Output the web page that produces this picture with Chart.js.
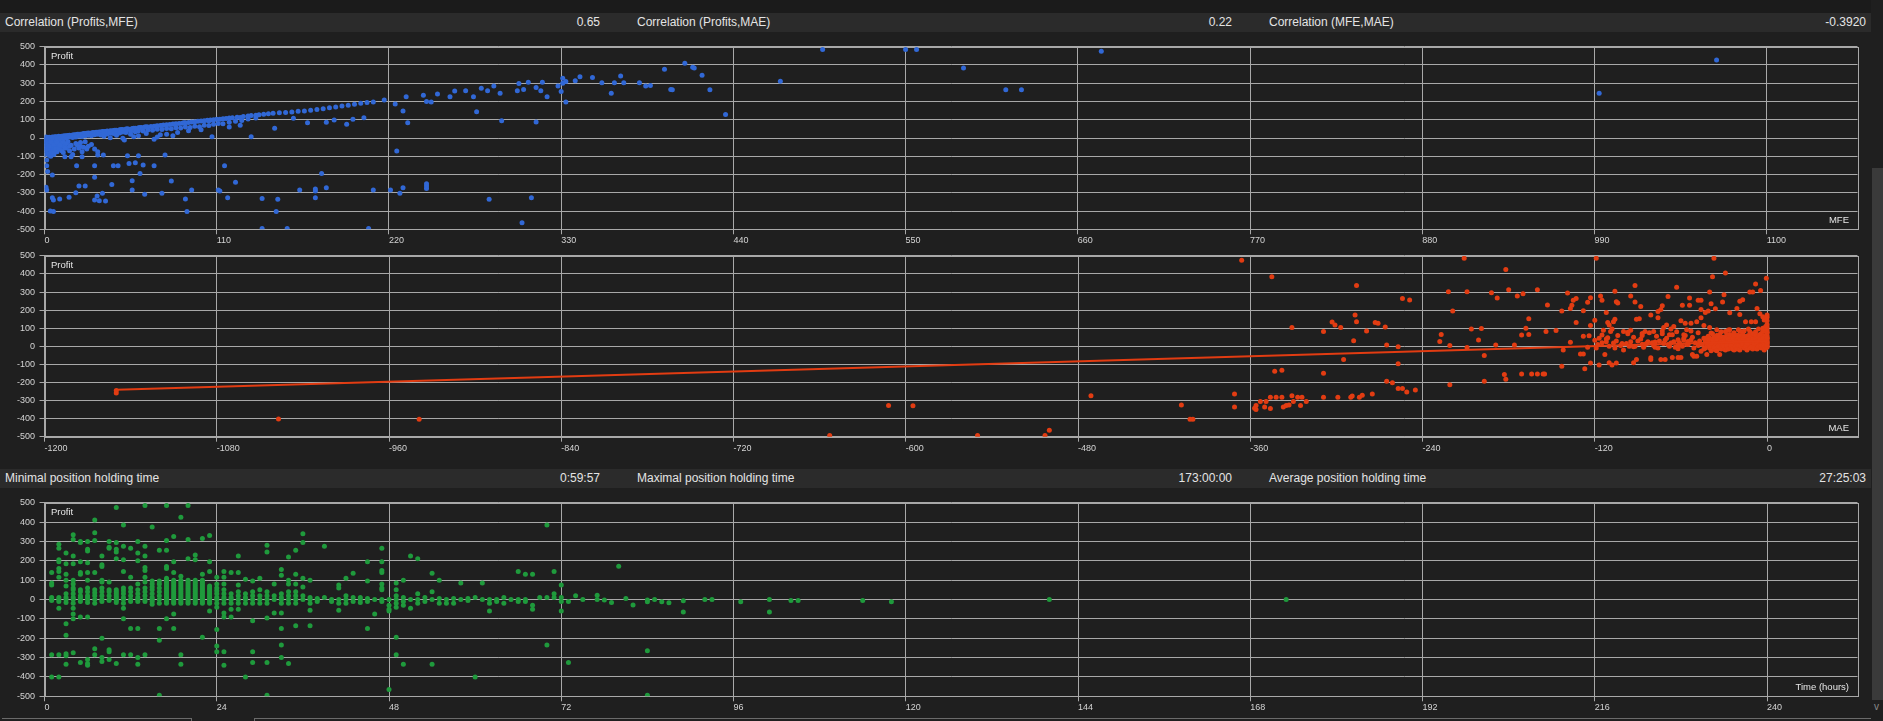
<!DOCTYPE html>
<html><head><meta charset="utf-8">
<script src="https://cdn.jsdelivr.net/npm/chart.js@4.4.1/dist/chart.umd.min.js"></script>
<style>
html,body{margin:0;padding:0;background:#1f1f1f;width:1883px;height:721px;overflow:hidden;font-family:'Liberation Sans',Arial,sans-serif;}
.abs{position:absolute;}
.hdr{position:absolute;left:0;width:1871px;height:19px;background:#2b2b2b;color:#e4e4e4;font-size:12px;}
.cl{position:absolute;top:0;line-height:19px;white-space:nowrap;}
.cr{position:absolute;top:0;line-height:19px;white-space:nowrap;text-align:right;}
canvas{position:absolute;left:0;}
</style></head><body>
<div class="abs" style="left:0;top:0;width:1871px;height:13px;background:#1b1b1b"></div>
<div class="hdr" style="top:13px">
  <span class="cl" style="left:5px">Correlation (Profits,MFE)</span>
  <span class="cr" style="right:1271px">0.65</span>
  <span class="cl" style="left:637px">Correlation (Profits,MAE)</span>
  <span class="cr" style="right:639px">0.22</span>
  <span class="cl" style="left:1269px">Correlation (MFE,MAE)</span>
  <span class="cr" style="right:5px">-0.3920</span>
</div>
<div class="hdr" style="top:469px">
  <span class="cl" style="left:5px">Minimal position holding time</span>
  <span class="cr" style="right:1271px">0:59:57</span>
  <span class="cl" style="left:637px">Maximal position holding time</span>
  <span class="cr" style="right:639px">173:00:00</span>
  <span class="cl" style="left:1269px">Average position holding time</span>
  <span class="cr" style="right:5px">27:25:03</span>
</div>
<canvas id="c1"></canvas>
<canvas id="c2"></canvas>
<canvas id="c3"></canvas>
<div class="abs" style="left:1871px;top:0;width:12px;height:721px;background:#1f1f1f"></div>
<div class="abs" style="left:1872px;top:168px;width:11px;height:532px;background:#3a3a3a"></div>
<div class="abs" style="left:1874px;top:701px;font-size:10px;color:#8a8a8a;">v</div>
<div class="abs" style="left:2px;top:718px;width:189px;height:5px;border-top:1px solid #6a6a6a;border-right:1px solid #6a6a6a;"></div>
<div class="abs" style="left:254px;top:718px;width:1616px;height:5px;border-top:1px solid #6a6a6a;border-left:1px solid #6a6a6a;"></div>
<script>
// ---------- DATA ----------
const profitAxis = {min: -500, max: 500, step: 100};
const mfeAxis = {min: 0, max: 1158, step: 110};
const maeAxis = {min: -1200, max: 63, step: 120};
const timeAxis = {min: 0, max: 252.6, step: 24};

// MFE vs Profit  [MFE, Profit]
const mfeProfitPoints = [
 [0,-5],[0,-20],[0,-35],[1,-10],[1,-50],[1,-70],[1,5],[2,-15],[2,-40],[2,-85],[2,0],[3,-25],[3,-60],[3,-95],[3,3],[4,-5],[4,-45],[4,-75],[5,-30],[5,-55],[5,2],[6,-10],[6,-65],[6,-90],[7,-20],[7,-40],[7,5],[8,-50],[8,-75],[8,2],[9,-15],[9,-35],[10,-60],[10,5],[11,-25],[11,-45],[12,-80],[12,8],[13,-35],[14,-55],[15,-20],[15,10],[16,-70],[17,-40],[18,-90],[18,12],[20,-30],[22,-55],[24,-75],[26,-20],[28,-45],
 [0,-60],[0,-90],[1,-30],[2,-60],[3,-45],[4,-20],[4,-100],[5,-80],[6,-35],[7,-60],[8,-25],[9,-55],[10,-40],[11,-70],[12,-20],[13,-55],[14,-30],[16,-45],[19,-60],[21,-40],[23,-25],[25,-50],[30,-35],[32,-60],
 [2,2],[3,4],[4,3],[5,6],[6,5],[7,7],[8,6],[9,9],[10,8],[11,10],[12,11],[13,12],[14,13],[15,14],[16,15],[17,14],[18,17],[19,18],[20,18],[21,20],[22,21],[23,20],[24,22],[25,24],[26,24],[27,26],[28,27],[29,26],[30,28],[31,30],[32,29],[33,31],[34,32],[35,33],[36,33],[37,35],[38,36],[39,36],[40,38],[42,40],[43,39],[44,41],[45,43],[46,42],[48,45],[49,47],[50,46],[52,49],[53,50],[54,48],[56,52],[57,54],[58,53],[60,56],[61,58],[62,57],[64,60],[65,62],[66,60],[68,63],[70,65],[71,64],[72,67],[74,69],[75,68],[76,71],[78,72],[80,74],[82,76],[83,75],[84,78],[86,80],[88,81],[89,83],[90,84],[92,85],[94,88],[96,89],[98,92],[100,93],[102,95],[104,97],[105,94],[106,99],[108,100],[110,102],[112,103],[114,106],[116,107],[118,110],[120,111],[123,114],[125,112],[127,118],[130,120],[132,123],[135,125],[137,128],[140,130],[143,133],[146,135],[150,138],[154,140],[158,143],[162,146],[166,148],[170,152],[174,156],[178,160],[182,165],[186,170],[190,175],[194,180],[198,185],[202,190],[206,195],
 [5,-2],[8,-4],[10,0],[12,2],[14,-3],[16,5],[18,3],[20,6],[22,10],[24,8],[26,12],[28,15],[30,13],[32,18],[34,20],[36,16],[38,24],[40,22],[42,27],[44,25],[46,30],[48,28],[50,33],[52,30],[55,36],[58,34],[60,40],[63,38],[66,44],[69,42],[72,48],[75,46],[78,52],[81,50],[84,56],[87,55],[90,60],[93,58],[96,64],[99,62],[102,70],[105,68],[108,75],[111,80],[114,78],[118,86],[122,92],[126,96],[130,104],[135,110],
 [38,10],[42,2],[46,15],[50,-2],[55,20],[60,12],[65,25],[72,5],[78,20],[85,30],[92,40],[100,45],[118,60],[125,70],
 [1.4,-120],[1.4,-152],[2,-184],[5,-203],[1,-270],[1.4,-285],[5,-327],[5.7,-340],[9.7,-334],[3.7,-400],[5.7,-403],[15.7,-325],[20,-300],[22,-263],[26,-263],[20.5,-152],[32,-215],[32,-152],[33.6,-318],[32,-340],[35,-343],[39,-345],[37,-303],[43,-254],[44,-152],[47,-152],[34,-75],[37.6,-93],[34,-93],[23,-47],[27,-60],[17,-102],[13,-102],[5.7,-84],[24,-102],[53,-97],[54,-139],[58,-135],[60,-97],[63,-148],[61,-194],[56,-234],[56,-285],[64,-308],[70,-152],[75,-303],[77,-93],[81,-235],[90,-334],[91,-403],[94,-285],[111,-285],[112,-290],[115,-152],[117,-327],[122,-243],[139,-332],[139,-495],[148,-402],[149,-336],[155,-495],[163,-285],[173,-279],[173,-290],[173,-327],[177,-194],[180,-272],[207,-495],[210,-285],[221,-285],[227,-303],[229,-272],[225,-71],[244,-250],[244,-263],[244,-276],[284,-336],[305,-464],[311,-327],
 [82,13],[74,18],[70,-7],[51,-11],[57,7],[107,7],[132,7],[147,53],[159,108],[168,84],[180,86],[185,98],[193,75],[197,102],[204,111],[229,148],[232,84],[292,95],[314,88],[333,197],[276,144],[400,266],[362,245],[387,287],
 [210,197],[217,208],[224,186],[231,226],[242,234],[244,200],[247,197],[251,241],[259,226],[262,257],[269,259],[274,226],[279,272],[283,259],[287,285],[291,245],[302,259],[303,299],[306,266],[309,305],[314,277],[318,305],[317,259],[321,226],[330,254],[331,327],[339,314],[342,336],[350,332],[356,303],[364,303],[368,339],[370,303],[380,303],[384,285],[396,376],[409,409],[414,387],[328,285],[331,300],[333,310],
 [401,264],[415,384],[420,344],[425,264],[435,129],[470,311],[497,484],[550,484],[557,484],[587,384],[614,264],[624,264],[675,475],[993,245],[1068,427]
];

// MAE vs Profit  [MAE, Profit]
const maeProfitPoints = [
 [-1150,-245],[-1150,-258],[-1037,-402],[-939,-404],[-653,-493],[-612,-327],[-595,-329],[-550,-493],[-503,-493],[-500,-464],[-471,-273],[-408,-325],[-402,-404],[-400,-404],[-371,-264],[-371,-336],[-366,476],
 [-345,385],[-286,336],[-254,265],[-249,256],[-331,104],[-309,82],[-303,135],[-301,118],[-297,104],[-287,173],[-286,136],[-288,31],[-279,85],[-273,131],[-271,127],[-266,107],[-265,7],[-257,-2],[-257,-96],[-295,-73],[-343,-138],[-338,-133],[-309,-149],[-265,-193],[-261,-202],[-257,-233],[-254,-233],[-251,-253],[-245,-242],[-275,-264],[-282,-271],[-284,-282],[-289,-275],[-290,-282],[-299,-282],[-309,-282],[-321,-305],[-324,-282],[-325,-327],[-327,-282],[-330,-305],[-331,-273],[-333,-324],[-335,-327],[-337,-336],[-338,-282],[-342,-282],[-346,-282],[-346,-344],[-349,-305],[-350,-336],[-353,-305],[-356,-327],[-357,-342],[-356,-349],
 [-222,302],[-211,487],[-209,302],[-219,195],[-227,65],[-228,27],[-221,5],[-221,-213],[-209,-7],[-206,96],[-201,35],[-199,98],[-197,-51],[-197,-193],[-192,296],[-189,7],[-188,267],[-182,425],[-180,313],[-183,-156],[-182,-182],[-176,7],[-174,278],[-170,291],[-171,62],[-168,100],[-166,65],[-166,153],[-171,-153],[-164,-153],[-160,-153],[-156,-153],[-155,-153],[-160,313],[-154,82],[-153,229],[-147,87],[-143,-111],[-142,-20],[-143,195],[-139,295],[-137,22],[-136,227],[-137,209],[-135,255],[-133,265],[-133,131],[-130,-42],[-128,-42],[-128,56],[-128,196],[-127,-124],[-125,244],[-124,58],[-123,115],[-123,269],[-123,-93],[-120,144],[-120,33],[-119,487],[-119,-9],[-117,-104],[-117,45],[-116,278],[-115,255],[-115,62],[-114,89],[-113,-45],[-112,187],[-111,131],[-111,47],[-110,-91],[-110,118],[-109,82],[-108,-104],[-107,18],[-107,136],[-106,304],[-106,149],[-105,247],[-105,-93],[-104,240],[-100,82],[-97,78],[-95,278],[-95,89],[-93,-91],[-93,-2],[-92,336],[-92,245],[-91,149],[-91,-73],[-89,153],[-88,220],[-87,71],[-87,11],[-85,82],[-84,15],[-81,173],[-81,-64],[-81,-73],[-79,82],[-78,24],[-76,158],[-76,193],[-74,204],[-74,-73],[-73,224],[-73,85],[-72,104],[-72,18],[-71,-73],[-70,118],[-69,276],[-68,64],[-67,18],[-66,-62],[-66,64],[-65,109],[-63,327],[-62,36],[-62,-13],[-62,-62],[-60,142],[-60,-62],[-59,227],[-58,64],[-58,45],[-57,127],[-56,91],[-55,27],[-54,267],[-54,227],[-53,85],[-53,127],[-52,-45],[-51,-55],[-49,-55],[-49,136],[-48,255],[-46,158],[-46,-27],[-46,255],[-46,204],[-44,115],[-43,45],[-43,187],[-42,-45],[-41,195],[-40,300],[-40,104],[-39,73],[-39,235],[-38,385],[-37,27],[-37,487],[-36,207],[-35,91],[-34,-9],[-33,-45],[-33,65],[-31,245],[-31,18],[-30,285],[-29,82],[-29,405],[-29,0],[-27,45],[-26,185],[-26,91],[-25,27],[-24,64],[-23,45],[-22,9],[-21,209],[-20,91],[-20,58],[-19,176],[-19,249],[-18,27],[-17,258],[-16,85],[-15,136],[-15,45],[-13,27],[-12,300],[-12,82],[-11,136],[-10,18],[-10,300],[-9,67],[-8,345],[-8,136],[-7,209],[-6,27],[-6,96],[-5,180],[-4.5,309],[-4,45],[-3,164],[-3,82],[-2,27],[-2,145],[-1,109],[-0.5,376],[0,173],[0,78],[0,18],[0,142],
 [-45,10],[-44,-15],[-43,30],[-42,5],[-41,55],[-40,-10],[-40,20],[-39,40],[-38,0],[-38,70],[-37,15],[-36,-20],[-36,35],[-35,5],[-35,60],[-34,25],[-33,-5],[-33,45],[-32,10],[-32,80],[-31,30],[-30,-15],[-30,50],[-29,20],[-28,65],[-28,35],[-27,5],[-27,90],[-26,-10],[-26,40],[-25,15],[-25,55],[-24,0],[-24,30],[-23,75],[-23,-20],[-22,20],[-22,45],[-21,5],[-21,60],[-20,-5],[-20,35],[-19,10],[-19,85],[-18,25],[-18,50],[-17,0],[-17,70],[-16,15],[-16,40],[-15,-10],[-15,30],[-14,5],[-14,55],[-13,20],[-13,95],[-12,0],[-12,45],[-11,10],[-11,65],[-10,-15],[-10,30],[-9,5],[-9,50],[-8,20],[-8,80],[-7,0],[-7,35],[-6,10],[-6,60],[-5,-5],[-5,25],[-5,45],[-4,15],[-4,70],[-3,0],[-3,35],[-3,100],[-2,10],[-2,55],[-2,-20],[-1,20],[-1,40],[-1,85],[0,0],[0,30],[0,60],[0,120],[0,160],
 [-50,20],[-55,10],[-58,35],[-62,5],[-65,25],[-68,0],[-70,45],[-72,15],[-75,30],[-78,-5],[-80,20],[-85,10],[-88,40],[-92,0],[-95,25],[-98,15],[-102,5],[-105,30],[-110,0],[-115,20],[-48,75],[-52,50],[-57,60],[-63,80],[-67,95],[-73,70],[-77,55],[-82,75],[-87,60],[-93,50],[-97,70],[-100,-20],[-104,60],[-108,95],[-112,40],
 [-29,10],[-28,-5],[-27,25],[-26,15],[-25,35],[-24,50],[-23,5],[-22,30],[-21,40],[-20,15],[-19,0],[-18,40],[-17,20],[-16,5],[-15,50],[-14,25],[-13,0],[-12,30],[-11,40],[-10,10],[-9,25],[-8,0],[-7,15],[-6,40],[-5,10],[-4,30],[-3,15],[-2,30],[-1,5],[0,15],[0,45],[0,75],[-1,60],[-2,40],[-3,55],[-4,50],[-6,25],[-7,50],[-9,35],[-10,50],[-12,15],[-14,40],[-16,25],[-18,10],[-20,45],[-22,10],[-24,15],[-26,55],[-28,20],[-30,25],[-32,40],[-34,10],[-36,5],[-38,20],[-40,45],
 [-40,0],[-39,15],[-39,-25],[-38,35],[-37,50],[-37,-5],[-36,20],[-35,40],[-35,-25],[-34,0],[-34,55],[-33,20],[-32,-15],[-32,25],[-31,50],[-31,5],[-30,0],[-30,35],[-29,-20],[-29,45],[-28,5],[-28,50],[-27,-15],[-27,40],[-26,25],[-26,65],[-25,-5],[-25,5],[-24,40],[-24,-15],[-23,25],[-23,60],[-22,-5],[-22,0],[-21,25],[-21,-15],[-20,5],[-20,60],[-19,30],[-19,-20],[-18,0],[-18,60],[-17,10],[-17,45],[-16,-10],[-16,55],[-15,20],[-15,0],[-14,-20],[-14,15],[-13,40],[-13,60],[-12,-10],[-12,60],[-11,25],[-11,-5],[-10,40],[-10,70],[-9,-10],[-9,15],[-8,45],[-8,60],[-7,-15],[-7,25],[-6,0],[-6,50],[-5,35],[-5,65],[-4,-10],[-4,5],[-3,25],[-3,45],[-2,0],[-2,20],[-1,-10],[-1,30],[0,-5],[0,5],[0,25],[0,40],[0,50],[0,90],[0,105],
 [-125,-5],[-118,10],[-112,25],[-106,-10],[-101,15],[-96,0],[-90,30],[-86,-5],[-83,25],[-79,5],[-76,-10],[-71,35],[-69,10],[-64,-5],[-61,20],[-59,0],[-56,10],[-53,35],[-51,-10],[-48,5],[-47,30],[-44,45],[-43,-10],[-42,20],[-41,35]
];
const maeTrendX = [-1150, 0];
const maeTrendY = [-240, 30];

// Holding time (hours) vs Profit : [hour, [profits...]]
const holdingColumns = [
 [1,[140,85,75,10,0,-5,-285,-400]],
 [2,[285,265,205,195,160,145,115,10,0,-10,-45,-285,-400]],
 [3,[240,185,130,100,70,30,10,0,-15,-125,-185,-280,-290,-335]],
 [4,[335,310,225,185,100,80,60,50,30,10,0,-20,-45,-75,-100,-275]],
 [5,[300,295,195,140,130,50,40,20,10,0,-10,-90,-325]],
 [6,[300,260,250,190,140,100,60,40,20,10,0,-15,-90,-310,-330,-340]],
 [7,[410,345,305,140,50,35,20,0,-20,-255,-285]],
 [8,[225,180,170,100,90,60,40,20,0,-10,-200,-300,-320]],
 [9,[300,270,265,90,50,40,20,0,-5,-260,-270,-310]],
 [10,[475,295,260,245,210,50,40,30,20,10,0,-5,-15,-330]],
 [11,[385,275,205,145,60,45,30,10,0,-20,-45,-100,-285]],
 [12,[265,115,60,40,20,0,-10,-150,-285]],
 [13,[300,240,200,80,50,30,10,0,-10,-150,-300,-335]],
 [14,[485,275,225,165,150,115,90,60,40,20,0,-10,-285]],
 [15,[375,95,80,65,50,30,10,0,-10,-25]],
 [16,[255,95,80,60,40,20,0,-20,-150,-210,-495]],
 [17,[485,305,255,170,160,110,100,90,80,70,60,50,40,30,20,10,0,-10,-20,-100]],
 [18,[325,195,140,100,90,80,70,60,50,40,30,20,10,0,-10,-20,-75,-150]],
 [19,[425,120,100,90,80,70,60,50,40,30,20,10,0,-10,-20,-285,-335]],
 [20,[485,310,210,100,90,80,70,60,50,40,30,20,10,0,-10,-20]],
 [21,[230,205,100,90,80,70,60,50,40,30,20,10,0,-10,-20]],
 [22,[315,130,100,90,80,70,60,50,40,30,20,10,0,-10,-20,-195]],
 [23,[330,195,145,70,60,50,40,30,20,10,0,-10,-20,-60]],
 [24,[115,80,60,45,30,10,0,-20,-40,-155,-240,-270]],
 [25,[145,115,80,50,30,10,0,-20,-70,-90,-270,-340]],
 [26,[140,30,10,0,-20,-50,-90]],
 [27,[225,140,75,40,20,0,-20,-50]],
 [28,[105,30,10,0,-20,-400]],
 [29,[95,40,20,0,-20,-110,-270,-325]],
 [30,[110,50,20,0,-20]],
 [31,[280,245,40,20,0,-20,-95,-325,-495]],
 [32,[80,20,0,-70]],
 [33,[155,125,30,10,0,-20,-70,-150,-235,-300]],
 [34,[220,100,80,40,20,0,-20,-330]],
 [35,[255,130,80,40,20,0,-20,-135]],
 [36,[340,295,110,65,20,0]],
 [37,[100,10,0,-20,-55,-135]],
 [38,[5,0,-10]],
 [39,[275,10]],
 [40,[0,-10]],
 [41,[75,60,0,-20,-55]],
 [42,[110,20,0,-20]],
 [43,[135,10,-10]],
 [44,[10,0,-15]],
 [45,[195,95,5,-10,-150]],
 [46,[0,-75]],
 [47,[265,195,150,140,80,60,50,0,-10]],
 [48,[0,-30,-50,-60,-465]],
 [49,[85,50,20,0,-20,-40,-195,-285]],
 [50,[100,10,-10,-30,-335]],
 [51,[225,0,-45]],
 [52,[210,30,0,-20]],
 [53,[10,-10]],
 [54,[135,40,0,-335]],
 [55,[100,5,-20]],
 [56,[0,-20]],
 [57,[5,-20]],
 [58,[85,0]],
 [59,[5,-5]],
 [60,[10,-400]],
 [61,[85,0]],
 [62,[0,-20,-60]],
 [63,[0,-10]],
 [64,[10,-20]],
 [65,[0]],
 [66,[145,0,-10]],
 [67,[130,0,-10]],
 [68,[130,-30,-50]],
 [69,[10]],
 [70,[385,10,-235]],
 [71,[145,30,10]],
 [72,[75,10,-10,-60]],
 [73,[-10,-325]],
 [74,[20]],
 [75,[0]],
 [77,[22,0]],
 [78,[-3]],
 [79,[-15]],
 [80,[172]],
 [81,[5]],
 [82,[-29]],
 [84,[-3,-12,-265,-494]],
 [85,[0]],
 [86,[-12]],
 [87,[-17]],
 [89,[-7,-64]],
 [92,[0]],
 [93,[0]],
 [97,[-12]],
 [101,[0,-64]],
 [104,[-5]],
 [105,[-5]],
 [114,[-5]],
 [118,[-12]],
 [140,[0]],
 [173,[0]]
];

// ---------- STYLE ----------
const GRID = '#a8a8a8';
const TICK = '#d4d4d4';
const LABEL = '#e6e6e6';
const FONT = "'Liberation Sans', Arial, sans-serif";
const CANVAS_W = 1871;
const PLOT_LEFT = 44.5;
const PLOT_RIGHT = 1857.5;

function toXY(pairs){ return pairs.map(p => ({x: p[0], y: p[1]})); }
function plainNumber(v){ return String(Math.round(v * 1000) / 1000); }

function makeChart(cfg){
  const cv = document.getElementById(cfg.id);
  cv.width = CANVAS_W; cv.height = cfg.height;
  cv.style.top = cfg.top + 'px';
  cv.style.width = CANVAS_W + 'px'; cv.style.height = cfg.height + 'px';
  const xAxisHeight = cfg.top + cfg.height - cfg.plotBottom;
  const framePlugin = {
    id: 'frame' + cfg.id,
    beforeDatasetsDraw(chart){
      const {ctx, chartArea: a} = chart;
      ctx.save();
      ctx.strokeStyle = GRID; ctx.lineWidth = 1;
      const l = Math.round(a.left) + 0.5, t = Math.round(a.top) + 0.5;
      ctx.strokeRect(l, t, Math.round(a.right) - Math.round(a.left), Math.round(a.bottom) - Math.round(a.top));
      ctx.restore();
    },
    afterDatasetsDraw(chart){
      const {ctx, chartArea: a} = chart;
      ctx.save();
      ctx.fillStyle = LABEL;
      ctx.font = '9.5px ' + FONT;
      ctx.textBaseline = 'middle';
      ctx.textAlign = 'left';
      ctx.fillText('Profit', a.left + 6.5, a.top + 9.5);
      ctx.textAlign = 'right';
      ctx.fillText(cfg.xTitle, a.right - 8.5, a.bottom - 8.5);
      ctx.restore();
    }
  };
  const tickFont = {family: FONT, size: 9};
  new Chart(cv, {
    type: 'scatter',
    data: {datasets: cfg.datasets},
    options: {
      responsive: false, animation: false, devicePixelRatio: 1, events: [],
      layout: {padding: {top: cfg.plotTop - cfg.top, right: CANVAS_W - PLOT_RIGHT, bottom: 0, left: 0}},
      plugins: {legend: {display: false}, tooltip: {enabled: false}},
      scales: {
        x: {
          type: 'linear', min: cfg.xAxis.min, max: cfg.xAxis.max,
          afterFit(s){ s.height = xAxisHeight; },
          ticks: {stepSize: cfg.xAxis.step, includeBounds: false, maxTicksLimit: 20, autoSkip: false,
                  align: 'start', maxRotation: 0, color: TICK, font: tickFont, padding: 1, callback: plainNumber},
          grid: {color: GRID, lineWidth: 1, tickLength: 5, tickColor: GRID},
          border: {display: true, color: GRID}
        },
        y: {
          type: 'linear', min: profitAxis.min, max: profitAxis.max,
          afterFit(s){ s.width = PLOT_LEFT; },
          ticks: {stepSize: profitAxis.step, maxTicksLimit: 20, autoSkip: false, color: TICK, font: tickFont, padding: 4.5, callback: plainNumber},
          grid: {color: GRID, lineWidth: 1, tickLength: 5, tickColor: GRID},
          border: {display: true, color: GRID}
        }
      }
    },
    plugins: [framePlugin]
  });
}

function pointSet(points, color){
  return {data: toXY(points), backgroundColor: color, borderWidth: 0, pointRadius: 2.5, pointHoverRadius: 2.5};
}

makeChart({
  id: 'c1', top: 32, height: 214, plotTop: 46.7, plotBottom: 229.3,
  xAxis: mfeAxis, xTitle: 'MFE',
  datasets: [pointSet(mfeProfitPoints, '#3168d6')]
});

const trendPoints = maeTrendX.map((x, i) => ({x: x, y: maeTrendY[i]}));
makeChart({
  id: 'c2', top: 246, height: 222, plotTop: 253.3, plotBottom: 436.7,
  xAxis: maeAxis, xTitle: 'MAE',
  datasets: [
    {data: trendPoints, showLine: true, borderColor: '#e23c12', borderWidth: 2, pointRadius: 0, fill: false},
    pointSet(maeProfitPoints, '#e23c12')
  ]
});

const holdingPoints = [];
holdingColumns.forEach(col => col[1].forEach(v => holdingPoints.push([col[0], v])));
makeChart({
  id: 'c3', top: 488, height: 233, plotTop: 502.7, plotBottom: 696.3,
  xAxis: timeAxis, xTitle: 'Time (hours)',
  datasets: [pointSet(holdingPoints, '#1f9a3c')]
});
</script>
</body></html>
